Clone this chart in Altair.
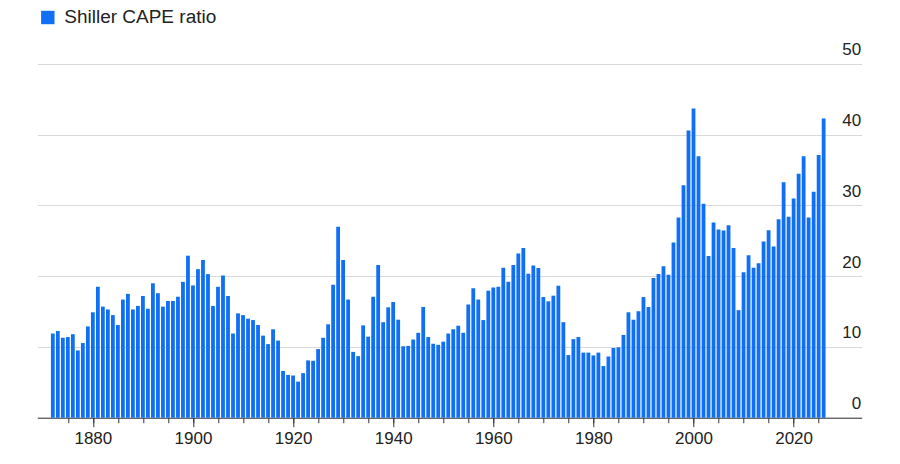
import altair as alt
import pandas as pd

# Shiller CAPE ratio, one value per year
years = list(range(1871, 2026))
cape = [
    11.9, 12.25, 11.3, 11.4, 11.8, 9.5, 10.55, 12.9, 14.9, 18.5,
    15.7, 15.3, 14.5, 13.1, 16.7, 17.5, 15.3, 15.8, 17.2, 15.4,
    19.0, 17.6, 15.7, 16.5, 16.5, 17.1, 19.2, 22.9, 18.7, 21.0,
    22.3, 20.3, 15.8, 18.5, 20.1, 17.2, 11.9, 14.75, 14.5, 14.0,
    13.8, 13.1, 11.6, 10.4, 12.5, 10.9, 6.6, 6.05, 5.95, 5.1,
    6.3, 8.1, 8.05, 9.7, 11.3, 13.2, 18.8, 27.0, 22.3, 16.7,
    9.3, 8.7, 13.05, 11.45, 17.1, 21.6, 13.5, 15.6, 16.35, 13.85,
    10.1, 10.15, 11.05, 12.0, 15.65, 11.4, 10.45, 10.3, 10.75, 11.9,
    12.5, 13.0, 12.0, 16.0, 18.3, 16.7, 13.8, 17.95, 18.4, 18.5,
    21.2, 19.2, 21.6, 23.2, 24.0, 20.35, 21.5, 21.15, 17.05, 16.45,
    17.25, 18.65, 13.5, 8.85, 11.1, 11.4, 9.2, 9.2, 8.8, 9.2,
    7.3, 8.65, 9.85, 9.95, 11.7, 14.9, 13.85, 15.05, 17.05, 15.65,
    19.75, 20.3, 21.4, 20.2, 24.75, 28.3, 32.85, 40.6, 43.7, 36.95,
    30.25, 22.85, 27.6, 26.6, 26.45, 27.2, 24.0, 15.2, 20.55, 22.95,
    21.2, 21.85, 24.9, 26.5, 24.2, 28.05, 33.3, 28.4, 31.0, 34.5,
    36.95, 28.3, 31.95, 37.15, 42.3,
]
series_name = "Shiller CAPE ratio"
major_ticks = list(range(1880, 2021, 20))
minor_ticks = list(range(1875, 2026, 5))
y_ticks = [0, 10, 20, 30, 40, 50]

BLUE = "#0f6ff5"
FONT = "Liberation Sans"
TEXT = "#222222"

df = pd.DataFrame({"year": years, "cape": cape, "series": series_name})

x_dom = [1869.9, 2032.6]

base = alt.Chart(df).transform_calculate(
    pos="datum.year + 1"  # annual value plotted at the year's end
)

bars = base.mark_bar(size=3.8).encode(
    x=alt.X(
        "pos:Q",
        scale=alt.Scale(domain=x_dom, nice=False, zero=False),
        axis=alt.Axis(
            values=major_ticks, format="d", title=None, orient="bottom",
            grid=False, domain=True, domainColor="#333333", domainWidth=1,
            ticks=True, tickSize=9, tickColor="#333333", tickWidth=1,
            labelFont=FONT, labelFontSize=17, labelColor=TEXT,
            labelPadding=4, labelFlush=False,
        ),
    ),
    y=alt.Y(
        "cape:Q",
        scale=alt.Scale(domain=[0, 50], nice=False),
        axis=alt.Axis(
            values=y_ticks, title=None, orient="right",
            grid=True, gridColor="#d9d9d9", gridWidth=1,
            domain=False, ticks=False, tickSize=0,
            labelAlign="right", labelBaseline="alphabetic",
            labelPadding=-1, labelOffset=-9,
            labelFont=FONT, labelFontSize=17, labelColor=TEXT,
        ),
    ),
    color=alt.Color(
        "series:N",
        scale=alt.Scale(domain=[series_name], range=[BLUE]),
        legend=alt.Legend(
            title=None, orient="none", legendX=1, legendY=-56,
            symbolType="square", symbolSize=180, symbolStrokeWidth=0,
            labelFont=FONT, labelFontSize=19, labelColor=TEXT,
            labelOffset=7, labelLimit=400, padding=0,
        ),
    ),
)

minor = base.mark_bar(size=3.8, opacity=0).encode(
    x=alt.X(
        "pos:Q",
        scale=alt.Scale(domain=x_dom, nice=False, zero=False),
        axis=alt.Axis(
            values=minor_ticks, title=None, orient="bottom", labels=False,
            domain=False, grid=False, ticks=True, tickSize=5,
            tickColor="#333333", tickWidth=1,
        ),
    ),
    y=alt.Y("cape:Q", scale=alt.Scale(domain=[0, 50], nice=False), axis=None),
)

chart = alt.layer(bars, minor).resolve_axis(
    x="independent", y="independent"
).properties(
    width=824.4,
    height=353.7,
    autosize=alt.AutoSizeParams(type="none"),
    padding={"left": 29.3, "top": 56, "right": 30, "bottom": 38},
).configure_view(stroke=None)

chart.save("out.html", embed_options={"renderer": "svg", "actions": False})
